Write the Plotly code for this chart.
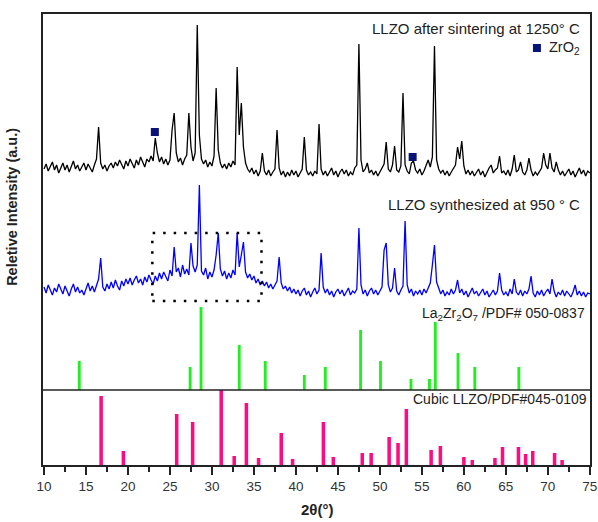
import plotly.graph_objects as go

# ---------------- data ----------------
# 2theta sampling of the patterns (0.25 deg steps from 10 to 75)
SCAN_START = 10.0
SCAN_STEP = 0.25

# LLZO after sintering at 1250 C (black), intensity in a.u. (one row per degree)
sintered_rows = [
    [296, 301, 294, 299], [303, 295, 300, 292], [298, 302, 295, 300], [293, 299, 304, 296],
    [300, 294, 298, 302], [295, 301, 297, 293], [300, 306, 338, 302], [296, 300, 294, 299],
    [302, 297, 303, 299], [305, 300, 296, 304], [299, 306, 301, 297], [305, 300, 308, 302],
    [298, 306, 303, 309], [304, 327, 312, 303], [308, 301, 306, 300], [305, 335, 352, 312],
    [303, 307, 300, 306], [310, 352, 318, 304], [312, 440, 330, 306], [301, 305, 298, 303],
    [299, 309, 377, 315], [302, 297, 301, 296], [302, 298, 304, 300], [398, 330, 362, 318],
    [302, 296, 293, 297], [291, 295, 289, 294], [312, 294, 290, 295], [289, 293, 296, 335],
    [297, 290, 294, 288], [293, 289, 295, 290], [294, 288, 292, 296], [328, 295, 290, 293],
    [289, 294, 291, 341], [296, 290, 294, 289], [293, 297, 290, 294], [288, 293, 296, 291],
    [295, 289, 293, 290], [297, 300, 421, 305], [293, 296, 302, 292], [295, 290, 294, 289],
    [293, 297, 301, 323], [296, 293, 300, 319], [295, 293, 299, 372], [300, 294, 291, 302],
    [304, 295, 292, 296], [290, 294, 299, 305], [298, 308, 419, 305], [296, 292, 295, 290],
    [294, 289, 293, 297], [300, 318, 306, 324], [299, 291, 295, 290], [294, 289, 293, 296],
    [290, 294, 288, 293], [297, 300, 292, 295], [297, 309, 292, 294], [290, 295, 289, 296],
    [310, 293, 295, 303], [293, 290, 295, 307], [295, 289, 293, 290], [294, 297, 312, 300],
    [296, 312, 297, 293], [303, 295, 290, 294], [289, 293, 296, 290], [294, 288, 293, 297],
    [291, 295, 289, 294], [292],
]

# LLZO synthesized at 950 C (blue)
synth_rows = [
    [178, 172, 180, 175], [170, 177, 173, 181], [176, 171, 179, 174], [169, 176, 181, 173],
    [178, 172, 175, 170], [177, 182, 174, 179], [173, 180, 186, 207], [178, 174, 181, 176],
    [183, 177, 185, 179], [175, 184, 179, 186], [181, 187, 180, 185], [189, 182, 186, 180],
    [188, 183, 190, 185], [181, 189, 184, 192], [186, 193, 188, 184], [195, 189, 218, 193],
    [197, 188, 200, 191], [196, 190, 222, 199], [193, 200, 280, 194], [190, 197, 186, 193],
    [188, 195, 210, 232], [196, 189, 194, 186], [192, 187, 195, 190], [232, 198, 210, 223],
    [193, 187, 191, 185], [189, 182, 186, 180], [184, 179, 183, 177], [181, 176, 180, 184],
    [208, 182, 176, 179], [174, 178, 172, 176], [171, 175, 169, 174], [177, 170, 174, 168],
    [173, 177, 171, 175], [212, 178, 172, 176], [170, 174, 168, 173], [176, 171, 175, 169],
    [173, 177, 170, 174], [172, 176, 237, 180], [171, 175, 169, 174], [177, 171, 175, 170],
    [174, 178, 215, 222], [180, 173, 177, 197], [174, 170, 175, 179], [244, 180, 172, 176],
    [169, 174, 171, 175], [170, 176, 172, 178], [182, 200, 220, 183], [176, 171, 175, 169],
    [173, 170, 176, 171], [175, 185, 172, 176], [170, 174, 168, 173], [177, 171, 174, 169],
    [173, 176, 170, 174], [168, 172, 175, 170], [174, 192, 175, 170], [173, 169, 176, 171],
    [186, 173, 170, 175], [169, 174, 171, 176], [189, 172, 168, 174], [170, 175, 169, 173],
    [176, 171, 186, 174], [168, 173, 170, 175], [169, 174, 171, 168], [173, 180, 170, 174],
    [169, 173, 168, 172], [171],
]

# ZrO2 reflections marked on the sintered pattern (2theta, intensity)
zro2_x = [23.2, 53.9]
zro2_y = [333, 308]

# La2Zr2O7 reference PDF# 050-0837 (green sticks)
lzo_pos = [14.2, 27.4, 28.7, 33.25, 36.35, 41.0, 43.5, 47.7, 50.07, 53.7, 55.9, 56.6, 59.3, 61.3, 66.55]
lzo_int = [29, 23, 83, 45, 29, 15, 23, 60, 29, 11, 11, 68, 37, 23, 23]
LZO_BASE = 75

# Cubic LLZO reference PDF#045-0109 (pink sticks)
llzo_pos = [16.8, 19.45, 25.8, 27.7, 31.1, 32.65, 34.1, 35.55, 38.25, 39.6, 43.27, 44.45, 47.9, 48.96,
            51.1, 52.16, 53.15, 56.1, 57.2, 60.0, 61.0, 63.7, 64.6, 66.5, 67.35, 68.2, 70.8, 71.7]
llzo_int = [69, 14, 51, 43, 75, 9, 62, 7, 32, 6, 43, 8, 12, 12,
            28, 22, 56, 15, 19, 8, 5, 7, 18, 18, 11, 14, 12, 5]

x_ticks = [10, 15, 20, 25, 30, 35, 40, 45, 50, 55, 60, 65, 70, 75]

# dotted highlight box (2theta range, intensity range)
box_x = [22.9, 35.9]
box_y = [164, 232]

# ---------------- build ----------------
def flatten(rows):
    out = []
    for r in rows:
        out.extend(r)
    return out

sint_y = flatten(sintered_rows)
syn_y = flatten(synth_rows)
sint_x = [SCAN_START + SCAN_STEP * i for i in range(len(sint_y))]
syn_x = [SCAN_START + SCAN_STEP * i for i in range(len(syn_y))]

FONT = "Liberation Sans, Arial, sans-serif"
TXT = "#222222"

fig = go.Figure()
fig.add_trace(go.Bar(x=llzo_pos, y=llzo_int, base=0, width=0.42,
                     marker=dict(color="#FF0A82", line=dict(width=0))))
fig.add_trace(go.Bar(x=lzo_pos, y=lzo_int, base=LZO_BASE, width=0.34,
                     marker=dict(color="#22EE22", line=dict(width=0))))
fig.add_trace(go.Scatter(x=syn_x, y=syn_y, mode="lines",
                         line=dict(color="#0000FF", width=1.3)))
fig.add_trace(go.Scatter(x=sint_x, y=sint_y, mode="lines",
                         line=dict(color="#000000", width=1.3)))
fig.add_trace(go.Scatter(x=zro2_x, y=zro2_y, mode="markers",
                         marker=dict(symbol="square", size=8, color="#0A1478")))
fig.add_trace(go.Scatter(x=[68.7], y=[417], mode="markers",
                         marker=dict(symbol="square", size=8, color="#0A1478")))

# separator line between the two reference patterns
fig.add_shape(type="line", xref="paper", x0=0, x1=1, yref="y", y0=LZO_BASE, y1=LZO_BASE,
              line=dict(color="#222222", width=1.5))
# dotted box
fig.add_shape(type="rect", x0=box_x[0], x1=box_x[1], y0=box_y[0], y1=box_y[1],
              line=dict(color="#000000", width=2.5, dash="2.5px,8px"))

def label(x, y, text, anchor="right", size=14):
    fig.add_annotation(x=x, y=y, xref="x", yref="y", text=text, showarrow=False,
                       xanchor=anchor, yanchor="middle",
                       font=dict(family=FONT, size=size, color=TXT))

label(74.1, 437, "LLZO after sintering at 1250° C", size=15)
label(69.9, 417, "ZrO<sub>2</sub>", anchor="left", size=14.5)
label(74.1, 261, "LLZO synthesized at 950 ° C", size=15)
label(74.7, 151, "La<sub>2</sub>Zr<sub>2</sub>O<sub>7</sub> /PDF# 050-0837")
label(74.9, 66, "Cubic LLZO/PDF#045-0109")

# axis titles
fig.add_annotation(xref="paper", yref="paper", x=0.5, y=-0.098, text="<b>2θ(°)</b>",
                   showarrow=False, xanchor="center", yanchor="middle",
                   font=dict(family=FONT, size=15, color=TXT))
fig.add_annotation(xref="paper", yref="paper", x=-0.057, y=0.572,
                   text="<b>Reletive Intensity (a.u.)</b>", textangle=-90,
                   showarrow=False, xanchor="center", yanchor="middle",
                   font=dict(family=FONT, size=14.5, color=TXT))

fig.update_layout(
    width=598, height=522,
    margin=dict(l=43, r=8, t=14, b=57, autoexpand=False),
    paper_bgcolor="white", plot_bgcolor="white",
    showlegend=False, barmode="overlay",
    xaxis=dict(range=[9.88, 75.02], tickmode="array", tickvals=x_ticks, automargin=False,
               ticks="outside", ticklen=8, tickwidth=1.5, tickcolor="#222222",
               minor=dict(dtick=2.5, tick0=10, ticks="outside", ticklen=5, tickwidth=1.5,
                          tickcolor="#222222", showgrid=False),
               showline=True, linecolor="#222222", linewidth=1.5, mirror=True,
               showgrid=False, zeroline=False,
               tickfont=dict(family=FONT, size=13.5, color="#333333")),
    yaxis=dict(range=[0, 451], showticklabels=False, ticks="", automargin=False,
               showline=True, linecolor="#222222", linewidth=1.5, mirror=True,
               showgrid=False, zeroline=False),
)

fig.write_html("out.html", config={"displayModeBar": False},
               post_script="document.body.style.margin='0px';")
